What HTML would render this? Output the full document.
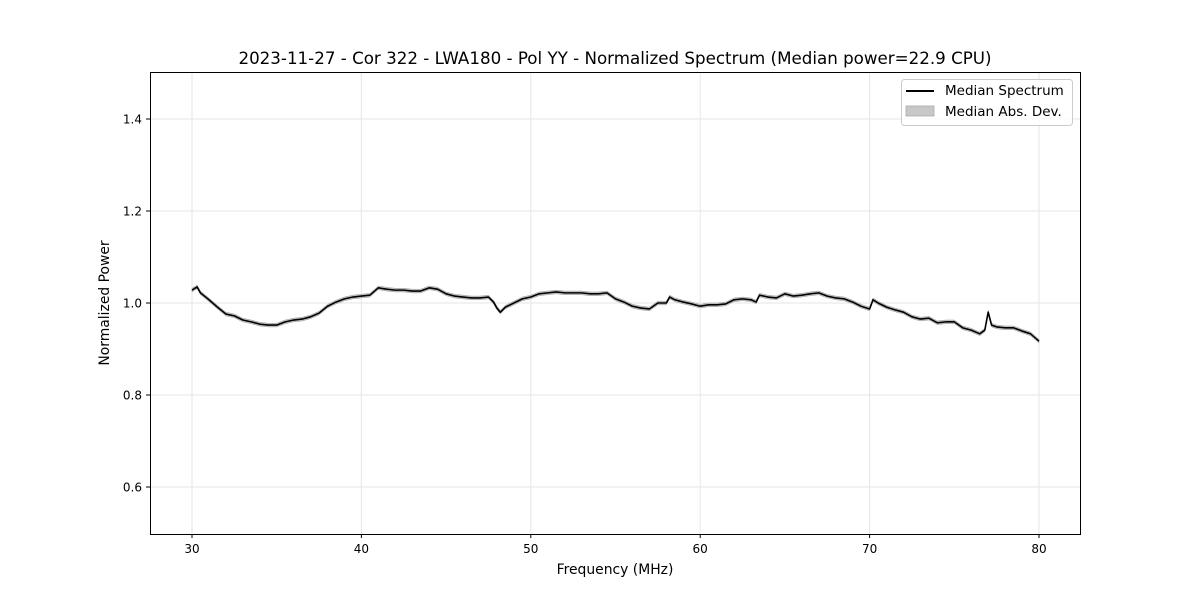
<!DOCTYPE html>
<html><head><meta charset="utf-8"><style>
body{margin:0;background:#fff}
svg text{font-family:"DejaVu Sans","Liberation Sans",sans-serif;fill:#000}
</style></head><body>
<svg id="chart" width="1200" height="600" xmlns="http://www.w3.org/2000/svg">
<rect width="1200" height="600" fill="#fff"/>
<g id="grid"></g>
<g id="series"></g>
<rect x="150.5" y="72.5" width="930" height="462" fill="none" stroke="#000" stroke-width="1"/>
<g id="axes"></g>
<text x="615" y="64" font-size="16.7" text-anchor="middle">2023-11-27 - Cor 322 - LWA180 - Pol YY - Normalized Spectrum (Median power=22.9 CPU)</text>
<text x="615" y="574" font-size="13.9" text-anchor="middle">Frequency (MHz)</text>
<text x="109" y="303" font-size="13.9" text-anchor="middle" transform="rotate(-90 109 303)">Normalized Power</text>
<g>
<rect x="901.5" y="79.5" width="171" height="46" rx="3" fill="#fff" fill-opacity="0.8" stroke="#ccc"/>
<g><line x1="906" y1="91" x2="934" y2="91" stroke="#000" stroke-width="2"/><text x="945" y="95" font-size="13.5">Median Spectrum</text></g>
<g><rect x="906" y="106" width="28" height="10" fill="#c8c8c8" stroke="#aaa" stroke-width="0.8"/><text x="945" y="116" font-size="13.5">Median Abs. Dev.</text></g>
</g>
</svg>
<script>
const freqs=[30,30.3,30.5,31,31.5,32,32.5,33,33.5,34,34.5,35,35.5,36,36.5,37,37.5,38,38.5,39,39.5,40,40.5,41,41.5,42,42.5,43,43.5,44,44.5,45,45.5,46,46.5,47,47.5,47.8,48,48.2,48.5,49,49.5,50,50.5,51,51.5,52,52.5,53,53.5,54,54.5,55,55.5,56,56.5,57,57.5,58,58.2,58.5,59,59.5,60,60.5,61,61.5,62,62.5,63,63.3,63.5,64,64.5,65,65.5,66,66.5,67,67.5,68,68.5,69,69.5,70,70.2,70.5,71,71.5,72,72.5,73,73.5,74,74.5,75,75.5,76,76.5,76.8,77,77.2,77.5,78,78.5,79,79.5,80];
const power=[1.028,1.035,1.022,1.007,0.991,0.976,0.972,0.963,0.959,0.954,0.952,0.952,0.959,0.963,0.965,0.970,0.978,0.993,1.002,1.009,1.013,1.015,1.017,1.033,1.030,1.028,1.028,1.026,1.026,1.033,1.030,1.020,1.015,1.013,1.011,1.011,1.013,1.002,0.989,0.980,0.991,1.000,1.009,1.013,1.020,1.022,1.024,1.022,1.022,1.022,1.020,1.020,1.022,1.009,1.002,0.993,0.989,0.987,1.000,1.000,1.013,1.007,1.002,0.998,0.993,0.996,0.996,0.998,1.007,1.009,1.007,1.002,1.017,1.013,1.011,1.020,1.015,1.017,1.020,1.022,1.015,1.011,1.009,1.002,0.993,0.987,1.007,1.000,0.991,0.985,0.980,0.970,0.965,0.967,0.957,0.959,0.959,0.946,0.941,0.933,0.941,0.980,0.952,0.948,0.946,0.946,0.939,0.933,0.917];
const mad=0.004;
const xTicks=[30,40,50,60,70,80];
const yTicks=[0.6,0.8,1.0,1.2,1.4];
const X=f=>192+(f-30)*(1039-192)/50;
const Y=v=>303-(v-1)*460;
const NS="http://www.w3.org/2000/svg";
function mk(t,a,p){const e=document.createElementNS(NS,t);for(const k in a)e.setAttribute(k,a[k]);p.appendChild(e);return e;}
const grid=document.getElementById('grid'),axes=document.getElementById('axes'),ser=document.getElementById('series');
xTicks.forEach(t=>{const x=X(t);
const g=mk('line',{x1:x,x2:x,y1:72,y2:534,stroke:'#e6e6e6'},grid);


const tk=mk('line',{x1:x,x2:x,y1:534,y2:538,stroke:'#000'},axes);


const l=mk('text',{x:x,y:553,'font-size':12,'text-anchor':'middle'},axes);l.textContent=t;

});
yTicks.forEach(t=>{const y=Y(t);
const g=mk('line',{x1:150,x2:1080,y1:y,y2:y,stroke:'#e6e6e6'},grid);


const tk=mk('line',{x1:146,x2:150,y1:y,y2:y,stroke:'#000'},axes);


const l=mk('text',{x:142,y:y+4.5,'font-size':12,'text-anchor':'end'},axes);l.textContent=t.toFixed(1);

});
let up=freqs.map((f,i)=>X(f)+','+Y(power[i]+mad)),dn=freqs.map((f,i)=>X(f)+','+Y(power[i]-mad)).reverse();
const band=mk('polygon',{points:up.concat(dn).join(' '),fill:'#c8c8c8',stroke:'#999','stroke-width':0.5},ser);


const line=mk('polyline',{points:freqs.map((f,i)=>X(f)+','+Y(power[i])).join(' '),fill:'none',stroke:'#000','stroke-width':1.6,'stroke-linejoin':'round'},ser);


</script>
</body></html>
